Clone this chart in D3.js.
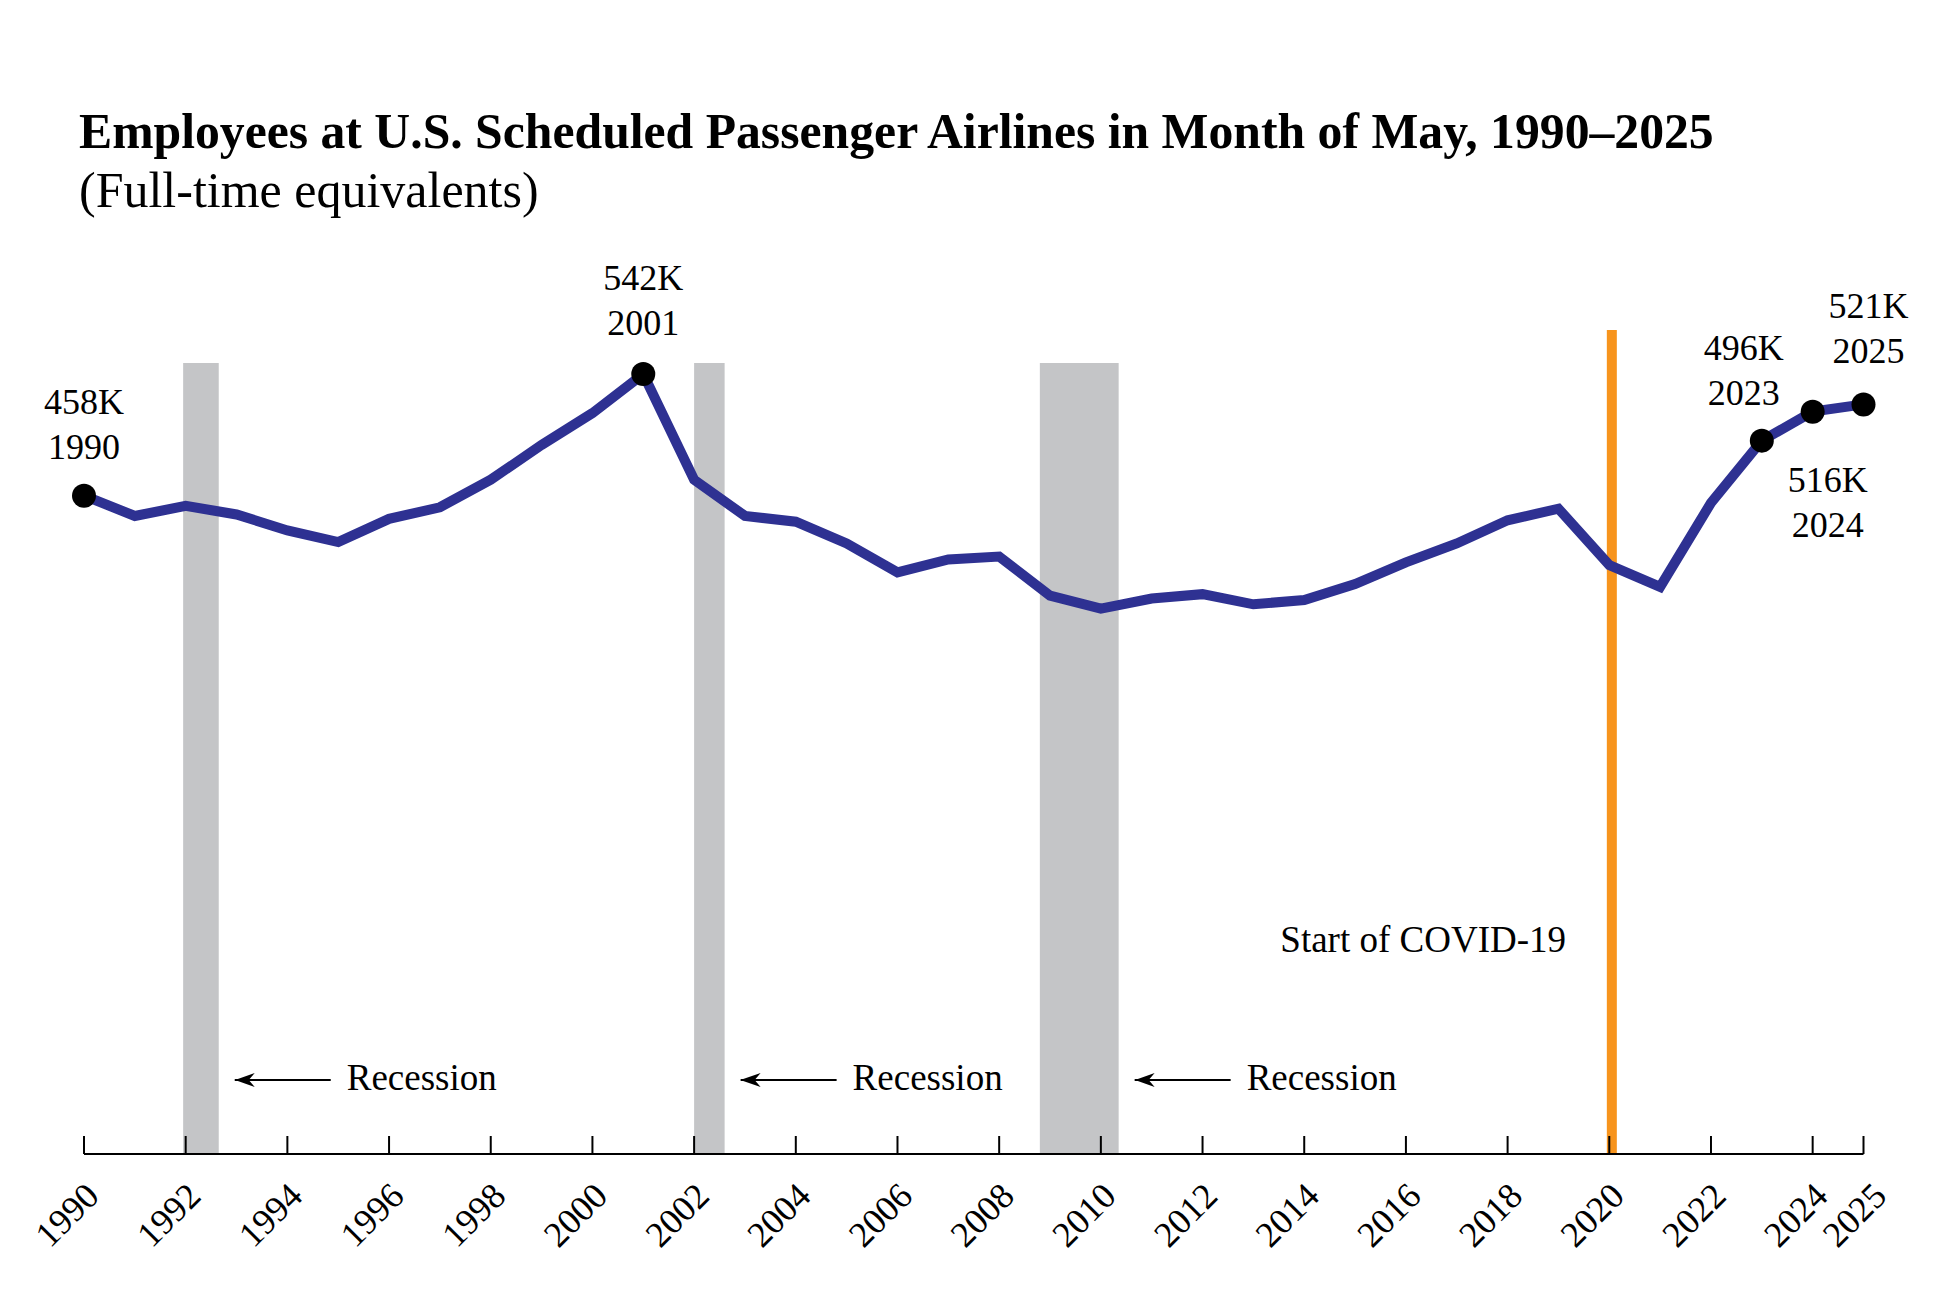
<!DOCTYPE html>
<html>
<head>
<meta charset="utf-8">
<script src="https://cdn.jsdelivr.net/npm/d3@7"></script>
<style>
  body { margin: 0; background: #fff; }
  svg text { font-family: "Liberation Serif", "Times New Roman", serif; fill: #000; }
</style>
</head>
<body>
<svg id="chart"></svg>
<script>
// data (thousands of full-time equivalents)
var years = [1990, 1991, 1992, 1993, 1994, 1995, 1996, 1997, 1998, 1999,
  2000, 2001, 2002, 2003, 2004, 2005, 2006, 2007, 2008, 2009,
  2010, 2011, 2012, 2013, 2014, 2015, 2016, 2017, 2018, 2019,
  2020, 2021, 2022, 2023, 2024, 2025]
var employees = [458, 444, 451, 445, 434, 426, 442, 450, 469, 493,
  515, 542, 469, 444, 440, 425, 405, 414, 416, 389,
  380, 387, 390, 383, 386, 397, 412, 425, 441, 449,
  410, 395, 453, 496, 516, 521]
var tickYears = [1990, 1992, 1994, 1996, 1998, 2000, 2002, 2004, 2006, 2008,
  2010, 2012, 2014, 2016, 2018, 2020, 2022, 2024, 2025]
var recessions = [[1991.95, 1992.65], [2002.0, 2002.6], [2008.8, 2010.35]]
var covidYear = 2020.05
var labelledYears = [1990, 2001, 2023, 2024, 2025]

var width = 1947; var height = 1316

var svg = d3.select('#chart')
  .attr('width', width)
  .attr('height', height)

const x = d3.scaleLinear()
  .domain([1990, 2025])
  .range([84, 1863.5])

const y = d3.scaleLinear()
  .domain([0, 600])
  .range([1159, 290])

var axisY = 1154
var shadeTop = 363

svg.append('defs').append('marker')
  .attr('id', 'arrow')
  .attr('viewBox', '0 0 20 14')
  .attr('refX', 0)
  .attr('refY', 7)
  .attr('markerWidth', 20)
  .attr('markerHeight', 14)
  .attr('markerUnits', 'userSpaceOnUse')
  .attr('orient', 'auto')
  .append('path')
  .attr('d', 'M0,7 L20,0 L14,7 L20,14 Z')
  .attr('fill', '#000')

// recession shading
svg.selectAll('rect.recession')
  .data(recessions)
  .enter().append('rect')
  .attr('class', 'recession')
  .attr('x', d => x(d[0]))
  .attr('width', d => x(d[1]) - x(d[0]))
  .attr('y', shadeTop)
  .attr('height', axisY - shadeTop)
  .attr('fill', '#c4c5c7')

// recession arrows + text
var rec = svg.selectAll('g.rec')
  .data(recessions)
  .enter().append('g')
  .attr('class', 'rec')
  .attr('transform', d => 'translate(' + x(d[1]) + ',1080)')

rec.append('line')
  .attr('x1', 16)
  .attr('x2', 112)
  .attr('stroke', '#000')
  .attr('stroke-width', 2)
  .attr('marker-start', 'url(#arrow)')

rec.append('text')
  .attr('x', 128)
  .attr('y', 10)
  .attr('font-size', 37)
  .text('Recession')

// covid line
svg.append('rect')
  .attr('x', x(covidYear) - 5)
  .attr('width', 10)
  .attr('y', 330)
  .attr('height', axisY - 330)
  .attr('fill', '#f7941d')

svg.append('text')
  .attr('x', 1566)
  .attr('y', 952)
  .attr('text-anchor', 'end')
  .attr('font-size', 37)
  .text('Start of COVID-19')

// axis
svg.append('line')
  .attr('x1', x(1990))
  .attr('x2', x(2025))
  .attr('y1', axisY)
  .attr('y2', axisY)
  .attr('stroke', '#000')
  .attr('stroke-width', 2)

svg.selectAll('line.tick')
  .data(tickYears)
  .enter().append('line')
  .attr('class', 'tick')
  .attr('x1', d => x(d))
  .attr('x2', d => x(d))
  .attr('y1', axisY)
  .attr('y2', axisY - 18)
  .attr('stroke', '#000')
  .attr('stroke-width', 2)

svg.selectAll('text.ticklabel')
  .data(tickYears)
  .enter().append('text')
  .attr('class', 'ticklabel')
  .attr('font-size', 36)
  .attr('text-anchor', 'end')
  .attr('transform', d => {
    var shift = d === 2025 ? 8 : 0
    return 'translate(' + (x(d) + 17 + shift) + ',1198) rotate(-45)'
  })
  .text(d => d)

// the line
var points = years.map((yr, i) => [yr, employees[i]])

svg.append('path')
  .datum(points)
  .attr('fill', 'none')
  .attr('stroke', '#2e3192')
  .attr('stroke-width', 10)
  .attr('stroke-linejoin', 'miter')
  .attr('d', d3.line().x(d => x(d[0])).y(d => y(d[1])))

var labelled = points.filter(d => labelledYears.includes(d[0]))

svg.selectAll('circle')
  .data(labelled)
  .enter().append('circle')
  .attr('cx', d => x(d[0]))
  .attr('cy', d => y(d[1]))
  .attr('r', 12)
  .attr('fill', '#000')

// where each label sits relative to its dot
var labelOffset = {
  1990: [0, -82], 2001: [0, -84], 2023: [-18, -81], 2024: [15, 80], 2025: [5, -86]
}

var lab = svg.selectAll('text.dlabel')
  .data(labelled)
  .enter().append('text')
  .attr('class', 'dlabel')
  .attr('font-size', 36)
  .attr('text-anchor', 'middle')
  .attr('x', d => x(d[0]) + labelOffset[d[0]][0])
  .attr('y', d => y(d[1]) + labelOffset[d[0]][1])

lab.append('tspan').text(d => d[1] + 'K')
lab.append('tspan')
  .attr('x', d => x(d[0]) + labelOffset[d[0]][0])
  .attr('dy', 45)
  .text(d => d[0])

// title
svg.append('text')
  .attr('x', 79)
  .attr('y', 148)
  .attr('font-size', 49.7)
  .attr('font-weight', 'bold')
  .text('Employees at U.S. Scheduled Passenger Airlines in Month of May, 1990\u20132025')

svg.append('text')
  .attr('x', 79)
  .attr('y', 207)
  .attr('font-size', 50)
  .text('(Full-time equivalents)')
</script>
</body>
</html>
